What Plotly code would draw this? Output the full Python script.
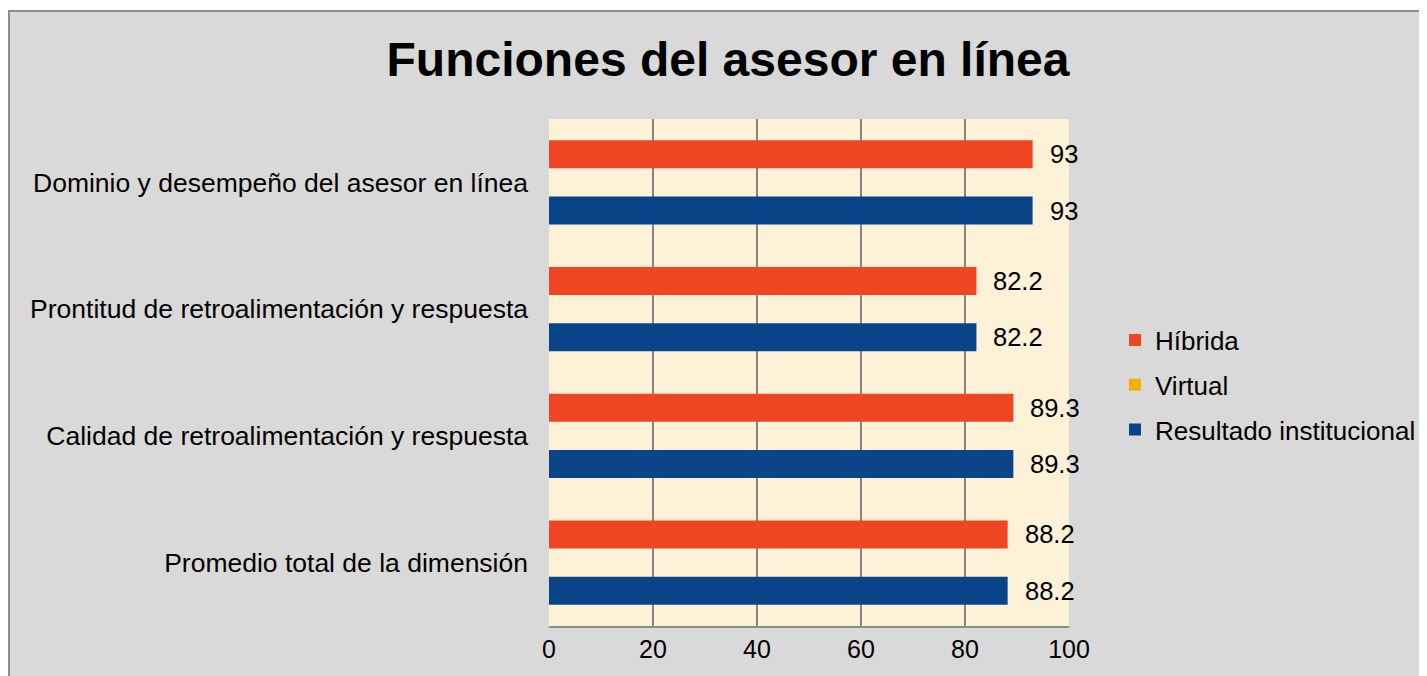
import plotly.graph_objects as go

categories = ["Promedio total de la dimensión",
              "Calidad de retroalimentación y respuesta",
              "Prontitud de retroalimentación y respuesta",
              "Dominio y desempeño del asesor en línea"]
hibrida = [88.2, 89.3, 82.2, 93]
virtual = [0, 0, 0, 0]
institucional = [88.2, 89.3, 82.2, 93]
x_ticks = [0, 20, 40, 60, 80, 100]

FONT = "Liberation Sans, Arial, sans-serif"
OFF = 8  # page body margin
W, H = 1427 - OFF, 676 - OFF
# plot area in screen pixels
L, R, T, B = 549 - OFF, 1069 - OFF, 119 - OFF, 626 - OFF
pw, ph = R - L, B - T
def px(x): return (x - OFF - L) / pw
def py(y): return (B - (y - OFF)) / ph

fig = go.Figure()
fig.add_trace(go.Bar(y=categories, x=institucional, orientation="h", name="Resultado institucional",
                     marker=dict(color="#0a4488", line=dict(width=0)), legendgroup="c", legendrank=3))
fig.add_trace(go.Bar(y=categories, x=virtual, orientation="h", name="Virtual",
                     marker=dict(color="#f2b000", line=dict(width=0)), legendgroup="b", legendrank=2))
fig.add_trace(go.Bar(y=categories, x=hibrida, orientation="h", name="Híbrida",
                     marker=dict(color="#ee4522", line=dict(width=0)), legendgroup="a", legendrank=1))

annotations = []
for i, c in enumerate(categories):
    for val, off in ((institucional[i], -0.222), (hibrida[i], 0.222)):
        annotations.append(dict(x=val, y=i + off, xref="x", yref="y", text=f"{val:g}",
                                showarrow=False, xanchor="left", xshift=15,
                                font=dict(family=FONT, size=25.5, color="#000")))

shapes = [
    dict(type="rect", xref="paper", yref="paper", x0=px(9), x1=px(1440), y0=py(690), y1=py(11),
         fillcolor="#d9d9d9", line=dict(color="#8c8c8c", width=2), layer="below"),
    dict(type="rect", xref="paper", yref="paper", x0=0, x1=1, y0=0, y1=1,
         fillcolor="#fdf1d8", line=dict(width=0), layer="below"),
]

fig.update_layout(
    width=W, height=H,
    margin=dict(l=L, r=W - R, t=T, b=H - B, autoexpand=False),
    paper_bgcolor="white", plot_bgcolor="rgba(0,0,0,0)",
    barmode="group", bargap=0.337, bargroupgap=0,
    title=dict(text="<b>Funciones del asesor en línea</b>", x=(728 - OFF) / W, xref="container",
               xanchor="center", y=1 - (59 - OFF) / H, yanchor="middle",
               font=dict(family=FONT, size=48, color="#000")),
    font=dict(family=FONT, size=26, color="#000"),
    xaxis=dict(range=[0, 100], tickvals=x_ticks, showgrid=True, gridcolor="#858585", gridwidth=1.5,
               zeroline=False, showline=True, linecolor="#8c8c8c", linewidth=2,
               tickfont=dict(family=FONT, size=25, color="#000"), ticks="", ticklen=0),
    yaxis=dict(showgrid=False, zeroline=False, showline=False,
               tickfont=dict(family=FONT, size=26.5, color="#000"), ticks="", ticklabelstandoff=20),
    legend=dict(x=px(1115), y=py(385), xanchor="left", yanchor="middle",
                traceorder="grouped", tracegroupgap=8,
                font=dict(family=FONT, size=26, color="#000"), bgcolor="rgba(0,0,0,0)",
                itemwidth=30),
    shapes=shapes, annotations=annotations,
)
fig.write_html("out.html")
